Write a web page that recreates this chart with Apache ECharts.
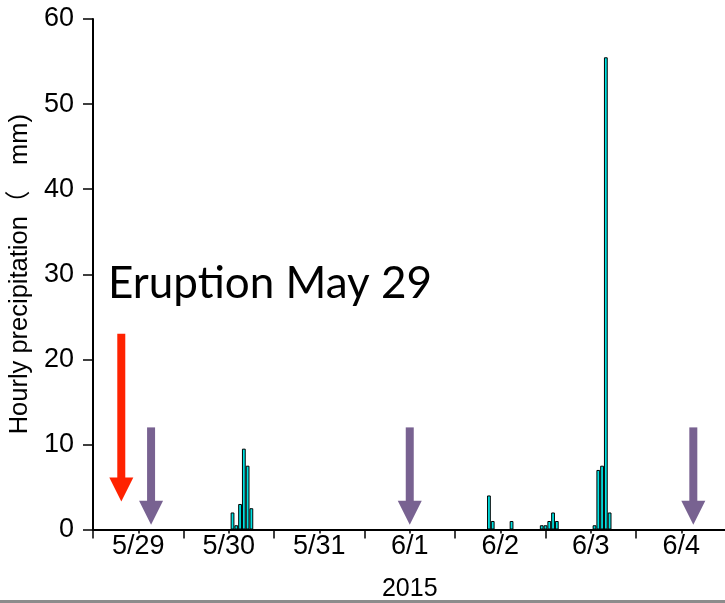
<!DOCTYPE html>
<html>
<head>
<meta charset="utf-8">
<script src="https://cdn.jsdelivr.net/npm/echarts@6/dist/echarts.min.js"></script>
<style>
  html, body { margin: 0; padding: 0; background: #fff; }
  #chart { width: 725px; height: 603px; }
</style>
</head>
<body>
<div id="chart"></div>
<script>
// Day labels on the time axis (2015)
const dayLabels = ['5/29', '5/30', '5/31', '6/1', '6/2', '6/3', '6/4'];

// Hourly rainfall: hour counted from 5/29 00:00, amount in mm
const rainHours = [25, 26, 27, 28, 29, 30, 93, 94, 99, 107, 108, 109, 110, 111, 121, 122, 123, 124, 125];
const rainMm    = [2.0, 0.5, 3.0, 9.5, 7.5, 2.5, 4.0, 1.0, 1.0, 0.5, 0.5, 1.0, 2.0, 1.0, 0.5, 7.0, 7.5, 55.5, 2.0];

// Y axis ticks
const yTicks = [0, 10, 20, 30, 40, 50, 60];

// Event arrows: hour, top of shaft (mm), tip (mm)
const arrowHours = [-4.5, 3.4, 72.0, 147.2];
const arrowTops  = [23.0, 12.0, 12.0, 12.0];
const arrowTips  = [3.3, 0.55, 0.55, 0.55];

const annotation = 'Eruption May 29';

const HOUR_MIN = -12;
const HOUR_MAX = HOUR_MIN + 24 * dayLabels.length;
const GRID = { left: 93, top: 19, width: 633.5, height: 510.5 };
const hourPx = GRID.width / (HOUR_MAX - HOUR_MIN);

const rainData = rainHours.map((h, i) => [h, rainMm[i]]);
const arrowData = arrowHours.map((h, i) => [h, arrowTops[i], arrowTips[i]]);
const arrowColors = ['#ff2200', '#786291', '#786291', '#786291'];

const baseFont = '"Liberation Sans", Arial, "Noto Sans CJK SC", sans-serif';

function renderArrow(params, api) {
  const top = api.coord([api.value(0), api.value(1)]);
  const tip = api.coord([api.value(0), api.value(2)]);
  const color = arrowColors[params.dataIndex];
  const headLen = 24, headHalf = 12, shaft = 8;
  const x = tip[0];
  return {
    type: 'group',
    children: [
      { type: 'rect', shape: { x: x - shaft / 2, y: top[1], width: shaft, height: tip[1] - headLen - top[1] + 1 },
        style: { fill: color } },
      { type: 'polygon', shape: { points: [[x - headHalf, tip[1] - headLen], [x + headHalf, tip[1] - headLen], [x, tip[1]]] },
        style: { fill: color } }
    ]
  };
}

const chart = echarts.init(document.getElementById('chart'), null, { renderer: 'canvas' });
chart.setOption({
  backgroundColor: '#ffffff',
  animation: false,
  grid: Object.assign({ outerBoundsMode: 'none', containLabel: false }, GRID),
  xAxis: [
    {
      type: 'category',
      data: dayLabels,
      position: 'bottom',
      boundaryGap: true,
      name: '2015',
      nameLocation: 'middle',
      nameGap: 47,
      nameTextStyle: { color: '#000', fontSize: 25, fontFamily: baseFont },
      axisLine: { show: true, onZero: false, lineStyle: { color: '#000', width: 2 } },
      axisTick: { show: true, inside: false, length: 9, lineStyle: { color: '#000', width: 1.5 } },
      axisLabel: { color: '#000', fontSize: 27, fontFamily: baseFont, margin: 4 },
      splitLine: { show: false }
    },
    {
      type: 'category',
      data: dayLabels,
      position: 'bottom',
      boundaryGap: true,
      axisLine: { show: false, onZero: false },
      axisTick: { show: true, alignWithLabel: true, inside: false, length: 4, lineStyle: { color: '#000', width: 1.5 } },
      axisLabel: { show: false },
      splitLine: { show: false }
    },
    {
      type: 'value',
      min: HOUR_MIN,
      max: HOUR_MAX,
      show: false,
      axisLine: { onZero: false },
      splitLine: { show: false }
    }
  ],
  yAxis: {
    type: 'value',
    position: 'left',
    min: yTicks[0],
    max: yTicks[yTicks.length - 1],
    interval: yTicks[1] - yTicks[0],
    name: 'Hourly precipitation（　mm)',
    nameLocation: 'middle',
    nameGap: 60,
    nameTextStyle: { color: '#000', fontSize: 25.5, fontFamily: baseFont },
    axisLine: { show: true, onZero: false, lineStyle: { color: '#000', width: 2 } },
    axisTick: { show: true, inside: false, length: 10, lineStyle: { color: '#000', width: 1.5 } },
    axisLabel: { color: '#000', fontSize: 27, fontFamily: baseFont, margin: 19 },
    splitLine: { show: false }
  },
  series: [
    {
      type: 'bar',
      xAxisIndex: 2,
      data: rainData,
      barWidth: hourPx,
      itemStyle: { color: '#00e3e3', borderColor: '#000', borderWidth: 1 }
    },
    {
      type: 'custom',
      xAxisIndex: 2,
      data: arrowData,
      renderItem: renderArrow,
      silent: true,
      clip: false
    }
  ],
  graphic: [
    {
      type: 'text',
      left: 108,
      top: 262,
      style: { text: annotation, fill: '#000', font: '44px Lato, "Open Sans", sans-serif' }
    },
    {
      type: 'rect',
      shape: { x: 0, y: 600, width: 725, height: 3 },
      style: { fill: '#8c8c8c' }
    }
  ]
});
</script>
</body>
</html>
